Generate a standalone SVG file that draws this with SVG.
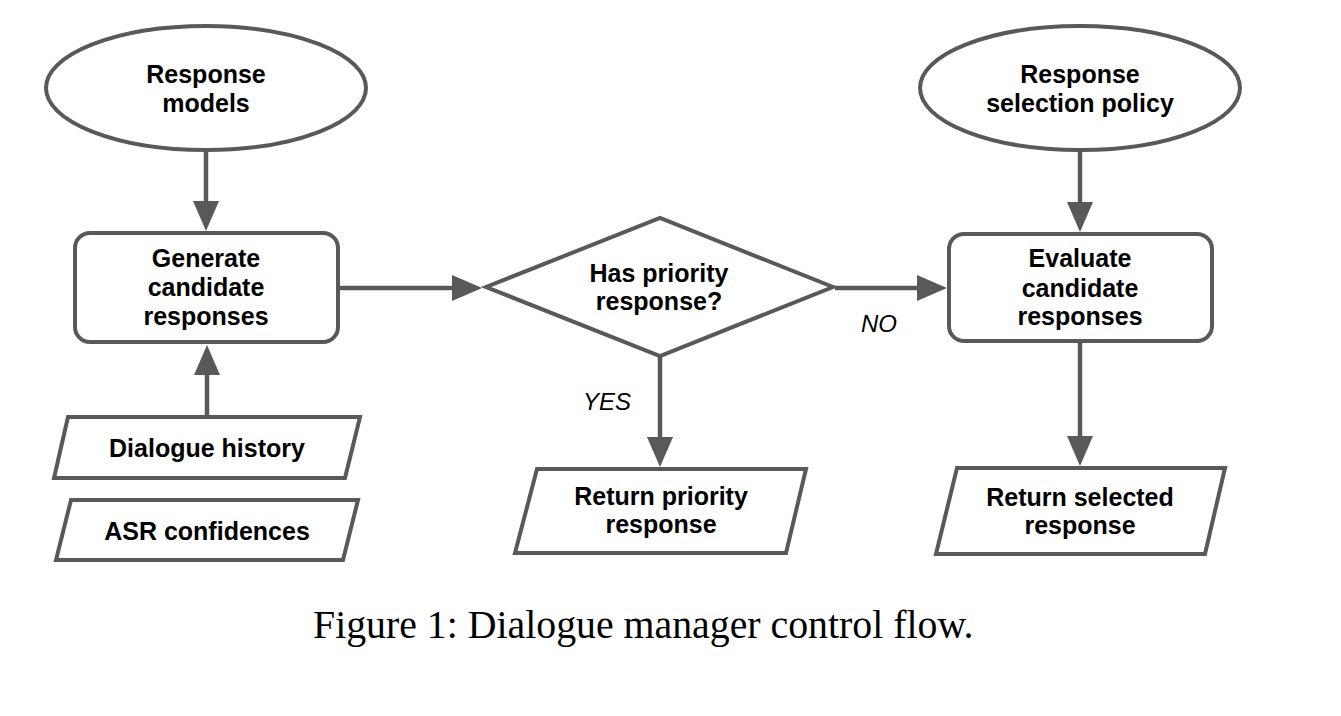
<svg xmlns="http://www.w3.org/2000/svg" width="1341" height="716" viewBox="0 0 1341 716">
<style>
.shape{fill:#fff;stroke:#595959;stroke-width:4;stroke-linejoin:miter}
.conn{fill:none;stroke:#595959;stroke-width:4.5}
.lbl{font-family:"Liberation Sans",Arial,sans-serif;font-weight:bold;font-size:25px;fill:#000;text-anchor:middle}
.edge{font-family:"Liberation Sans",Arial,sans-serif;font-style:italic;font-size:24px;fill:#000}
.cap{font-family:"Liberation Serif","Times New Roman",serif;font-size:39.8px;fill:#000}
</style>
<defs>
<marker id="arr" viewBox="0 0 30 26" refX="15" refY="13" markerWidth="30" markerHeight="26" markerUnits="userSpaceOnUse" orient="auto">
<path d="M0,0 L30,13 L0,26 z" fill="#595959"/>
</marker>
</defs>
<rect width="1341" height="716" fill="#fff"/>
<g id="connectors">
<line class="conn" x1="206" y1="150" x2="206" y2="216" marker-end="url(#arr)"/>
<line class="conn" x1="207" y1="417" x2="207" y2="360" marker-end="url(#arr)"/>
<line class="conn" x1="338" y1="288" x2="467" y2="288" marker-end="url(#arr)"/>
<line class="conn" x1="835" y1="288" x2="932" y2="288" marker-end="url(#arr)"/>
<line class="conn" x1="660" y1="356" x2="660" y2="452" marker-end="url(#arr)"/>
<line class="conn" x1="1080" y1="150" x2="1080" y2="217" marker-end="url(#arr)"/>
<line class="conn" x1="1080" y1="341" x2="1080" y2="451" marker-end="url(#arr)"/>
<text class="edge" x="583" y="410">YES</text>
<text class="edge" x="861" y="332">NO</text>
</g>
<g id="response-models">
<ellipse class="shape" cx="206" cy="88" rx="160" ry="62"/>
<text class="lbl" x="206" y="83">Response</text>
<text class="lbl" x="206" y="112">models</text>
</g>
<g id="generate">
<rect class="shape" x="75" y="233" width="263" height="109" rx="15"/>
<text class="lbl" x="206" y="267">Generate</text>
<text class="lbl" x="206" y="296">candidate</text>
<text class="lbl" x="206" y="325">responses</text>
</g>
<g id="dialogue-history">
<polygon class="shape" points="68,417 360,417 345,478 54,478"/>
<text class="lbl" x="207" y="457">Dialogue history</text>
</g>
<g id="asr-confidences">
<polygon class="shape" points="71,500 358,500 343,560 56,560"/>
<text class="lbl" x="207" y="540">ASR confidences</text>
</g>
<g id="priority-decision">
<polygon class="shape" points="486,287 660,218 833,287 660,356"/>
<text class="lbl" x="659" y="282">Has priority</text>
<text class="lbl" x="659" y="310">response?</text>
</g>
<g id="return-priority">
<polygon class="shape" points="537,469 806,469 786,553 515,553"/>
<text class="lbl" x="661" y="505">Return priority</text>
<text class="lbl" x="661" y="533">response</text>
</g>
<g id="selection-policy">
<ellipse class="shape" cx="1080" cy="88" rx="160" ry="62"/>
<text class="lbl" x="1080" y="83">Response</text>
<text class="lbl" x="1080" y="112">selection policy</text>
</g>
<g id="evaluate">
<rect class="shape" x="949" y="234" width="263" height="107" rx="15"/>
<text class="lbl" x="1080" y="267">Evaluate</text>
<text class="lbl" x="1080" y="297">candidate</text>
<text class="lbl" x="1080" y="325">responses</text>
</g>
<g id="return-selected">
<polygon class="shape" points="957,468 1225,468 1205,554 936,554"/>
<text class="lbl" x="1080" y="506">Return selected</text>
<text class="lbl" x="1080" y="534">response</text>
</g>
<text class="cap" x="313" y="638">Figure 1: Dialogue manager control flow.</text>
</svg>
